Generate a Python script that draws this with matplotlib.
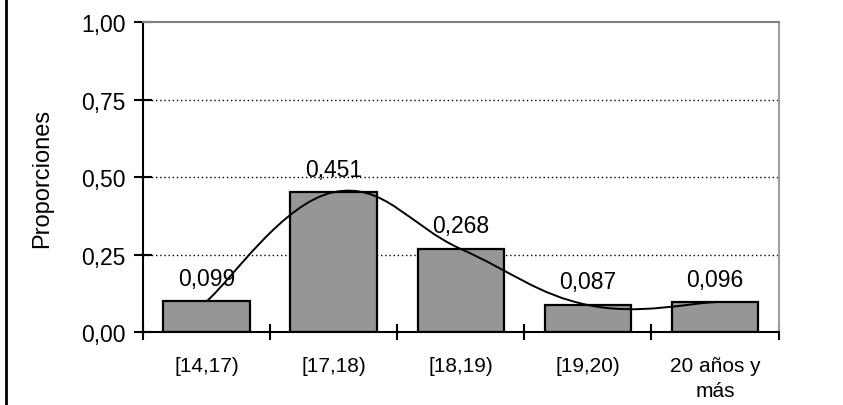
import matplotlib.pyplot as plt
import numpy as np
from matplotlib.path import Path
from matplotlib.patches import PathPatch
from matplotlib.lines import Line2D

plt.rcParams['font.family'] = ['Liberation Sans', 'DejaVu Sans']

categorias = ['[14,17)', '[17,18)', '[18,19)', '[19,20)', '20 años y\nmás']
proporciones = [0.099, 0.451, 0.268, 0.087, 0.096]
y_ticks = [0.0, 0.25, 0.5, 0.75, 1.0]
y_tick_labels = ['0,00', '0,25', '0,50', '0,75', '1,00']

fig = plt.figure(figsize=(8.43, 4.06), dpi=100)
ax = fig.add_axes([143 / 843, 73 / 406, 635.5 / 843, 310 / 406])

x = np.arange(len(categorias))
ax.bar(x, proporciones, width=0.68, color='#969696', edgecolor='black',
       linewidth=1.6, zorder=2)

# smoothed line through the bar tops (Excel-like bezier smoothing)
k = 1 / 5
pts = np.column_stack([x, proporciones]).astype(float)
ext = np.vstack([pts[0], pts, pts[-1]])
verts = [tuple(pts[0])]
codes = [Path.MOVETO]
for i in range(len(pts) - 1):
    p0, p1, p2, p3 = ext[i], ext[i + 1], ext[i + 2], ext[i + 3]
    c1 = p1 + (p2 - p0) * k
    c2 = p2 - (p3 - p1) * k
    verts += [tuple(c1), tuple(c2), tuple(p2)]
    codes += [Path.CURVE4] * 3
ax.add_patch(PathPatch(Path(verts, codes), facecolor='none', edgecolor='black',
                       linewidth=1.4, zorder=3))

for xi, v in zip(x, proporciones):
    ax.annotate(f'{v:.3f}'.replace('.', ','), (xi, v), xytext=(0, 12),
                textcoords='offset points', ha='center', va='baseline',
                fontsize=16.5, zorder=4)

ax.set_xlim(-0.5, len(categorias) - 0.5)
ax.set_ylim(0, 1)
ax.set_yticks(y_ticks)
ax.set_yticklabels(y_tick_labels, fontsize=16.5)
ax.set_xticks(x)
ax.set_xticklabels(categorias, fontsize=15, linespacing=1.45, va='top')
ax.set_xticks(np.arange(len(categorias) + 1) - 0.5, minor=True)
ax.tick_params(axis='x', which='major', length=0, pad=17)
ax.tick_params(axis='x', which='minor', direction='inout', length=12, width=1.5)
ax.tick_params(axis='y', direction='inout', length=13, width=1.5, pad=6)
ax.set_ylabel('Proporciones', fontsize=17, labelpad=20)

for g in y_ticks[1:-1]:
    ax.axhline(g, color='black', linestyle=(0, (1, 2)), linewidth=1, zorder=1)

ax.spines['left'].set_linewidth(1.5)
ax.spines['bottom'].set_linewidth(1.5)
ax.spines['top'].set_color('#808080')
ax.spines['right'].set_color('#a0a0a0')
ax.spines['top'].set_linewidth(1.5)
ax.spines['right'].set_linewidth(1.5)

fig.add_artist(Line2D([6 / 843, 6 / 843], [0, 1], transform=fig.transFigure,
                      color='black', linewidth=2))

fig.savefig('out.png', dpi=100)
